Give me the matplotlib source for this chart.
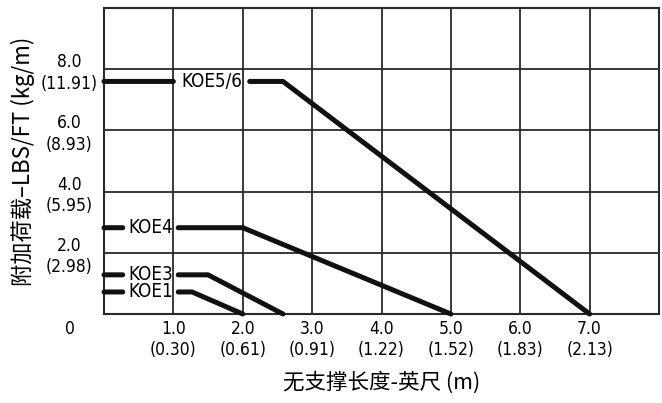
import numpy as np
import matplotlib.pyplot as plt

# data (x in ft, y in lbs/ft)
x_ticks = [1, 2, 3, 4, 5, 6, 7]
x_tick_m = ["0.30", "0.61", "0.91", "1.22", "1.52", "1.83", "2.13"]
y_ticks = [2, 4, 6, 8]
y_tick_kg = ["2.98", "5.95", "8.93", "11.91"]

koe56_x = [0, 1.0, np.nan, 2.1, 2.58, 7.0]
koe56_y = [7.6, 7.6, np.nan, 7.6, 7.6, 0]
koe4_x = [0, 0.27, np.nan, 1.07, 2.0, 5.0]
koe4_y = [2.82, 2.82, np.nan, 2.82, 2.82, 0]
koe3_x = [0, 0.27, np.nan, 1.07, 1.5, 2.58]
koe3_y = [1.28, 1.28, np.nan, 1.28, 1.28, 0]
koe1_x = [0, 0.27, np.nan, 1.07, 1.27, 2.0]
koe1_y = [0.72, 0.72, np.nan, 0.72, 0.72, 0]

series = [(koe56_x, koe56_y, "KOE5/6", 1.55),
          (koe4_x, koe4_y, "KOE4", 0.67),
          (koe3_x, koe3_y, "KOE3", 0.67),
          (koe1_x, koe1_y, "KOE1", 0.67)]

num_font = dict(family=['DejaVu Sans'], stretch='condensed')
cjk = ['Noto Sans CJK SC', 'DejaVu Sans']

fig = plt.figure(figsize=(6.62, 4.03), dpi=100)
ax = fig.add_axes([104/662, 1 - 314/403, 555/662, 306/403])
ax.set_xlim(0, 8)
ax.set_ylim(0, 10)

ax.set_xticks(np.arange(0, 9, 1))
ax.set_yticks(np.arange(0, 11, 2))
ax.grid(True, color='#2a2a2a', linewidth=1.3)
for s in ax.spines.values():
    s.set_color('#2a2a2a')
    s.set_linewidth(1.5)

ax.set_xticks(x_ticks, [f"{v:.1f}\n({m})" for v, m in zip(x_ticks, x_tick_m)])
ax.set_yticks(y_ticks, [f"{v:.1f}\n({k})" for v, k in zip(y_ticks, y_tick_kg)])
ax.tick_params(length=0, labelsize=12.5)
ax.tick_params(axis='x', pad=4)
ax.tick_params(axis='y', pad=25)
for lab in ax.get_xticklabels() + ax.get_yticklabels():
    lab.set_fontstretch('condensed')
    lab.set_multialignment('center')
    lab.set_linespacing(1.25)
for lab in ax.get_yticklabels():
    lab.set_ha('center')
ax.text(-34/555, -6/306, "0", transform=ax.transAxes, ha='center', va='top',
        fontsize=12.5, **num_font)

for xs, ys, name, lx in series:
    ax.plot(xs, ys, color='#111111', linewidth=3.6, solid_capstyle='round',
            clip_on=False, zorder=3)
    ax.text(lx, ys[0], name, ha='center', va='center', fontsize=13.5,
            zorder=4, **num_font)

ax.set_xlabel("无支撑长度-英尺 (m)", family=cjk, fontsize=15.5, labelpad=9)
ax.set_ylabel("附加荷载–LBS/FT (kg/m)", family=cjk, fontsize=16, labelpad=4)

fig.savefig("out.png", dpi=100)
